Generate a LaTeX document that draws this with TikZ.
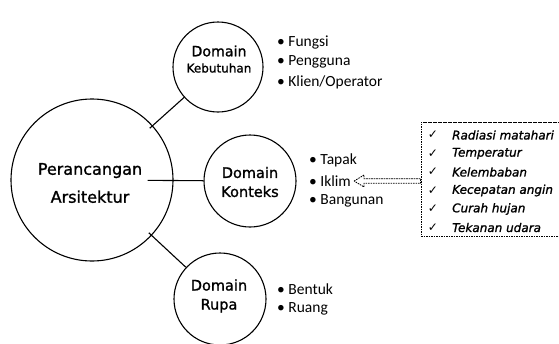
\documentclass[tikz,border=0pt]{standalone}
\usepackage{fontspec}
\setmainfont{DejaVu Sans}[FakeBold=1.3]
\newfontfamily\bulletfont{Carlito}
\newfontfamily\checkfont{DejaVu Sans}
\usetikzlibrary{calc}
\begin{document}
\begin{tikzpicture}[x=1pt,y=-1pt,
  ring/.style={draw, circle, line width=1.1pt, inner sep=0pt},
  conn/.style={line width=1.1pt},
  lbl/.style={inner sep=0pt, align=center},
  item/.style={inner sep=0pt, anchor=west, font=\bulletfont\fontsize{15.5}{18}\selectfont},
  chk/.style={inner sep=0pt, anchor=west, font=\fontsize{12}{14}\selectfont\itshape},
  tick/.style={inner sep=0pt, font=\checkfont\fontsize{12}{14}\selectfont},
  dbox/.style={draw, line width=0.8pt, dash pattern=on 1.6pt off 0.9pt, inner sep=0pt, minimum width=146pt, minimum height=114pt},
  hollow/.style={draw, line width=0.8pt, dash pattern=on 1.6pt off 0.9pt, line join=miter}
]
\useasboundingbox (0,0) rectangle (559,343);

% circles
\node[ring, minimum size=162pt] (big) at (92,180) {};
\node[ring, minimum size=90pt] (keb) at (218,67) {};
\node[ring, minimum size=92pt] (kon) at (250,181) {};
\node[ring, minimum size=92pt] (rupa) at (220,299) {};

% circle texts
\node[lbl, font=\fontsize{16}{28}\selectfont] (bigt) at (90,183) {Perancangan\\Arsitektur};
\node[lbl, font=\fontsize{14.2}{17}\selectfont] (kebt1) at (219,51) {Domain};
\node[lbl, font=\fontsize{12}{14}\selectfont] (kebt2) at (219,68) {Kebutuhan};
\node[lbl, font=\fontsize{14.5}{19}\selectfont] (kont) at (250,182) {Domain\\Konteks};
\node[lbl, font=\fontsize{14.5}{19}\selectfont] (rupat) at (219,296) {Domain\\Rupa};

% connectors
\draw[conn, shorten <=-4pt] (big) -- (keb);
\draw[conn, shorten <=-26pt] (big) -- (kon);
\draw[conn, shorten <=-4pt] (big) -- (rupa);

% bullet lists
\node[item] (fungsi) at (277,42) {\textbullet\hspace{3.5pt}Fungsi};
\node[item] (pengguna) at (277,62) {\textbullet\hspace{3.5pt}Pengguna};
\node[item] (klien) at (277,82) {\textbullet\hspace{3.5pt}Klien/Operator};
\node[item] (tapak) at (309,160) {\textbullet\hspace{3.5pt}Tapak};
\node[item] (iklim) at (309,181) {\textbullet\hspace{3.5pt}Iklim};
\node[item] (bangunan) at (309,201) {\textbullet\hspace{3.5pt}Bangunan};
\node[item] (bentuk) at (277,289) {\textbullet\hspace{3.5pt}Bentuk};
\node[item] (ruang) at (277,309) {\textbullet\hspace{3.5pt}Ruang};

% checklist box
\node[dbox] (box) at (494,179) {};
\node[tick] (t1) at (433,135) {✓};
\node[tick] (t2) at (433,153.5) {✓};
\node[tick] (t3) at (433,172) {✓};
\node[tick] (t4) at (433,190.5) {✓};
\node[tick] (t5) at (433,209) {✓};
\node[tick] (t6) at (433,227.5) {✓};
\node[chk] (c1) at (452,135) {Radiasi matahari};
\node[chk] (c2) at (452,153.5) {Temperatur};
\node[chk] (c3) at (452,172) {Kelembaban};
\node[chk] (c4) at (452,190.5) {Kecepatan angin};
\node[chk] (c5) at (452,209) {Curah hujan};
\node[chk] (c6) at (452,227.5) {Tekanan udara};

% hollow dashed arrow
\coordinate (tip) at ([xshift=3pt]iklim.east);
\draw[hollow] (tip) -- ($(tip)+(10,-6)$) -- ($(tip)+(10,-2.3)$)
  -- (box.west |- {$(tip)+(0,-2.3)$}) -- (box.west |- {$(tip)+(0,2.3)$})
  -- ($(tip)+(10,2.3)$) -- ($(tip)+(10,6)$) -- cycle;
\end{tikzpicture}
\end{document}
